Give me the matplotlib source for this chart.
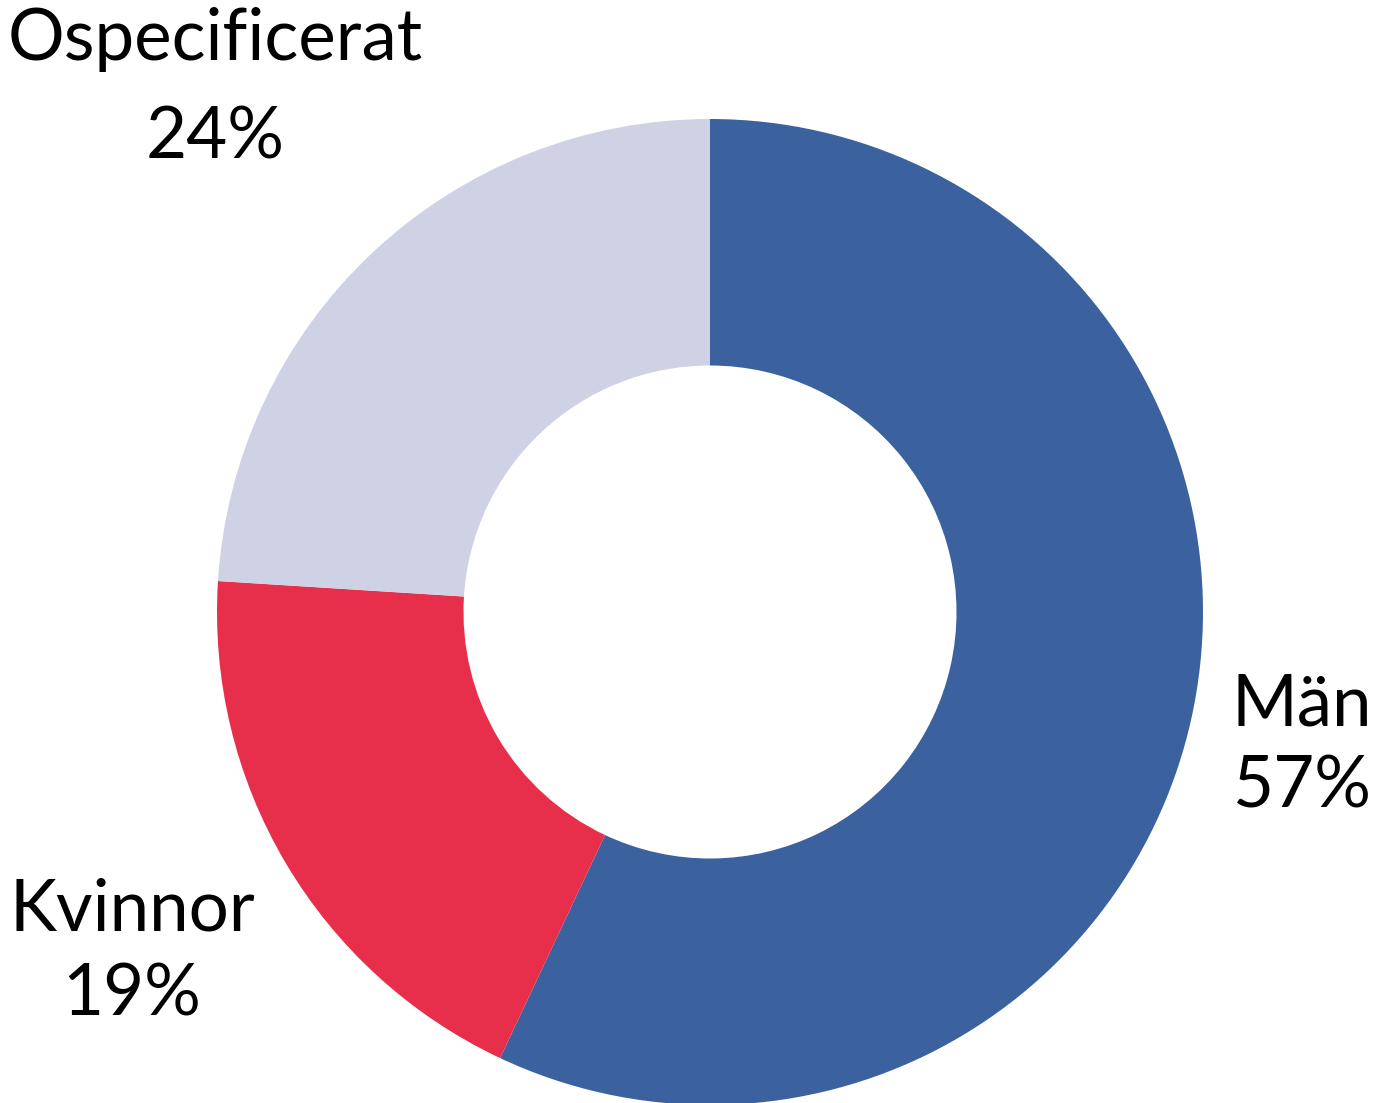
import matplotlib
matplotlib.use("Agg")
import matplotlib.pyplot as plt

# Share of participants by gender
categories = ["Män", "Kvinnor", "Ospecificerat"]
shares = [57, 19, 24]
colors = ["#3B629E", "#E72F4C", "#CFD2E5"]

W, H = 1373, 1103
fig = plt.figure(figsize=(W / 100, H / 100), dpi=100)
ax = fig.add_axes([0, 0, 1, 1])
ax.set_xlim(0, W)
ax.set_ylim(0, H)
ax.set_aspect("equal")
ax.axis("off")

cx, cy = 710, H - 612
R = 493
ax.pie(shares, colors=colors, startangle=90, counterclock=False,
       center=(cx, cy), radius=R,
       wedgeprops=dict(width=R * 0.5, linewidth=0))
ax.set_xlim(0, W)
ax.set_ylim(0, H)

font = dict(family=["Lato", "DejaVu Sans"], fontsize=51, fontweight="normal",
            color="black", ha="center", va="center")
label_pos = {
    "Män": ((1302, 705), (1302, 787)),
    "Kvinnor": ((132, 910), (132, 995)),
    "Ospecificerat": ((215, 40), (215, 138)),
}
for name, val in zip(categories, shares):
    (x1, y1), (x2, y2) = label_pos[name]
    ax.text(x1, H - y1, name, **font)
    ax.text(x2, H - y2, f"{val}%", **font)

fig.savefig("out.png", dpi=100)
